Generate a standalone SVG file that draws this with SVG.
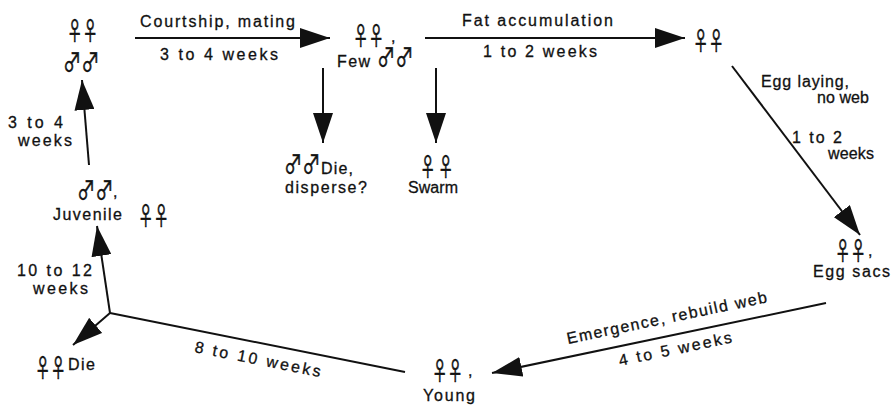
<svg xmlns="http://www.w3.org/2000/svg" width="892" height="405" viewBox="0 0 892 405">
<style>
text{font-family:"Liberation Sans",Arial,sans-serif;font-size:16px;fill:#111;stroke:#111;stroke-width:0.3;}
.f{font-family:"Noto Sans CJK JP","DejaVu Sans",sans-serif;font-size:25px;stroke-width:0.7;}
.m{font-family:"Noto Sans CJK JP","DejaVu Sans",sans-serif;font-size:26px;stroke-width:0.6;}
.c line{stroke:#111;stroke-width:2;fill:none;}
</style>
<defs>
<marker id="ah" markerUnits="userSpaceOnUse" markerWidth="30" markerHeight="20" refX="30" refY="10" orient="auto">
<path d="M0,0 L30,10 L0,20 z" fill="#111"/>
</marker>
</defs>
<rect width="892" height="405" fill="#fff"/>
<g id="connectors" class="c">
<line x1="135" y1="38" x2="330" y2="38" marker-end="url(#ah)"/>
<line x1="425" y1="38" x2="685" y2="38" marker-end="url(#ah)"/>
<line x1="323" y1="68" x2="323" y2="143" marker-end="url(#ah)"/>
<line x1="436" y1="68" x2="436" y2="143" marker-end="url(#ah)"/>
<line x1="732" y1="66" x2="860" y2="235" marker-end="url(#ah)"/>
<line x1="826" y1="303" x2="492" y2="373" marker-end="url(#ah)"/>
<line x1="405" y1="372" x2="110" y2="313"/>
<line x1="110" y1="313" x2="97" y2="226" marker-end="url(#ah)"/>
<line x1="110" y1="313" x2="73" y2="345" marker-end="url(#ah)"/>
<line x1="89" y1="165" x2="82" y2="80" marker-end="url(#ah)"/>
</g>
<g id="labels">
<text x="140" y="27" textLength="155" lengthAdjust="spacing">Courtship, mating</text>
<text x="160" y="60" textLength="118" lengthAdjust="spacing">3 to 4 weeks</text>
<text x="462" y="26" textLength="151" lengthAdjust="spacing">Fat accumulation</text>
<text x="483" y="57" textLength="114" lengthAdjust="spacing">1 to 2 weeks</text>
<text x="761" y="87" textLength="88" lengthAdjust="spacing">Egg laying,</text>
<text x="817" y="103" textLength="52" lengthAdjust="spacing">no web</text>
<text x="792" y="143" textLength="50" lengthAdjust="spacing">1 to 2</text>
<text x="828" y="159" textLength="46" lengthAdjust="spacing">weeks</text>
<text transform="translate(568,344) rotate(-11.8)" textLength="204" lengthAdjust="spacing">Emergence, rebuild web</text>
<text transform="translate(620,366) rotate(-11.8)" textLength="115" lengthAdjust="spacing">4 to 5 weeks</text>
<text transform="translate(194,352) rotate(11.3)" textLength="128" lengthAdjust="spacing">8 to 10 weeks</text>
<text x="17" y="276" textLength="75" lengthAdjust="spacing">10 to 12</text>
<text x="33" y="294" textLength="55" lengthAdjust="spacing">weeks</text>
<text x="8" y="128" textLength="55" lengthAdjust="spacing">3 to 4</text>
<text x="18" y="146" textLength="54" lengthAdjust="spacing">weeks</text>
</g>
<g id="node-adults">
<text class="f" transform="translate(67,40) scale(0.62,1)">♀♀</text>
<text class="m" transform="translate(63,72) scale(0.7,1)">♂♂</text>
</g>
<g id="node-mated">
<text class="f" transform="translate(353,45) scale(0.62,1)">♀♀</text><text x="391" y="42">,</text>
<text x="337" y="67" textLength="33" lengthAdjust="spacing">Few</text>
<text class="m" transform="translate(377,67) scale(0.7,1)">♂♂</text>
</g>
<g id="node-males-die">
<text class="m" transform="translate(284,174) scale(0.7,1)">♂♂</text>
<text x="321" y="174" textLength="32" lengthAdjust="spacing">Die,</text>
<text x="285" y="193" textLength="82" lengthAdjust="spacing">disperse?</text>
</g>
<g id="node-swarm">
<text class="f" transform="translate(420,176) scale(0.62,1)">♀</text>
<text class="f" transform="translate(438,176) scale(0.62,1)">♀</text>
<text x="408" y="193" textLength="50" lengthAdjust="spacing">Swarm</text>
</g>
<g id="node-fat">
<text class="f" transform="translate(693,50) scale(0.62,1)">♀♀</text>
</g>
<g id="node-eggsacs">
<text class="f" transform="translate(835,260) scale(0.62,1)">♀♀</text><text x="868" y="256">,</text>
<text x="813" y="277" textLength="77" lengthAdjust="spacing">Egg sacs</text>
</g>
<g id="node-young">
<text class="f" transform="translate(432,380) scale(0.62,1)">♀♀</text><text x="468" y="376">,</text>
<text x="423" y="401" textLength="52" lengthAdjust="spacing">Young</text>
</g>
<g id="node-females-die">
<text class="f" transform="translate(35,377) scale(0.62,1)">♀♀</text>
<text x="68" y="370" textLength="27" lengthAdjust="spacing">Die</text>
</g>
<g id="node-juvenile">
<text class="m" transform="translate(77,200) scale(0.7,1)">♂♂</text><text x="113" y="197">,</text>
<text x="53" y="220" textLength="69" lengthAdjust="spacing">Juvenile</text>
<text class="f" transform="translate(138,225) scale(0.62,1)">♀♀</text>
</g>
</svg>
